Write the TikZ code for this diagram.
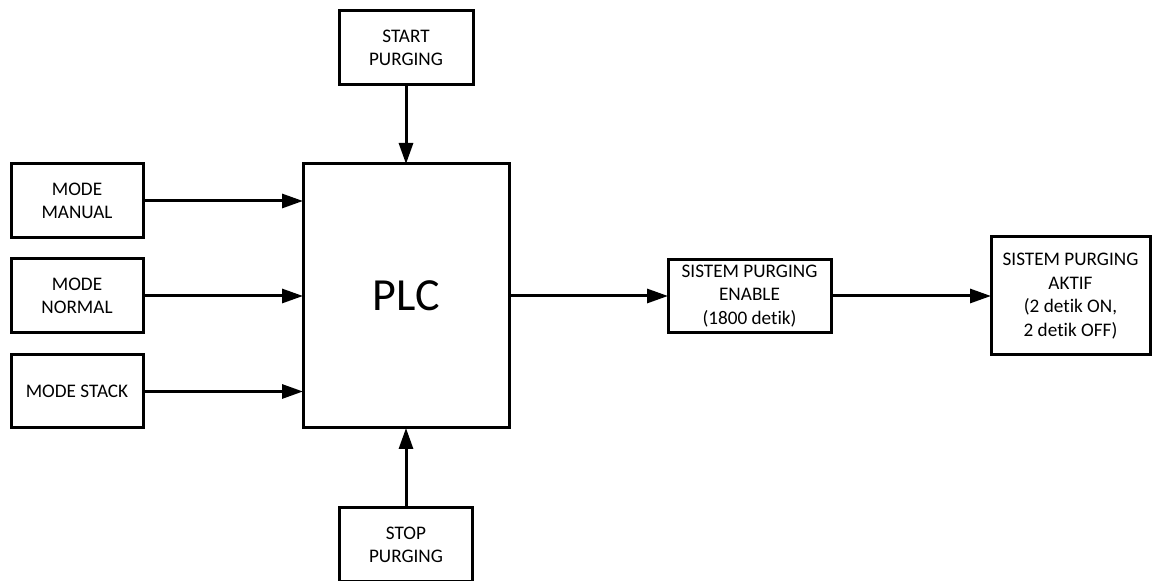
\documentclass[tikz,border=0pt]{standalone}
\usepackage{fontspec}
\setmainfont{Carlito}[Ligatures=NoCommon]
\usepackage{tikz}
\usetikzlibrary{positioning}
\usetikzlibrary{arrows.meta}

\begin{document}
\begin{tikzpicture}[
        block/.style={rectangle, draw, line width=1.5pt, inner sep=0pt, outer sep=0pt, align=center, font=\fontsize{9.6}{11.8}\selectfont, minimum width=66pt, minimum height=37pt},
        plcblock/.style={block, font=\fontsize{23}{27}\selectfont, minimum width=103pt, minimum height=132pt},
        arrow/.style={line width=1.5pt, -{Triangle[length=10.5pt, width=7pt]}}
    ]
        \useasboundingbox (0,0) rectangle (576pt,-290.5pt);

        % PLC
        \node[plcblock] (plc) at (203pt,-148pt) {PLC};

        % Eingaenge
        \node[block, minimum width=67pt] (start) [above=39.5pt of plc] {START\\PURGING};
        \node[block, minimum width=66.5pt] (stop) [below=40pt of plc] {STOP\\PURGING};
        \node[block] (normal) [left=80pt of plc] {MODE\\NORMAL};
        \node[block] (manual) [above=10.5pt of normal] {MODE\\MANUAL};
        \node[block, minimum height=36.5pt] (stack) [below=11pt of normal] {MODE STACK};

        % Ausgaenge
        \node[block, minimum width=81.5pt, minimum height=36.5pt] (enable) [right=79.5pt of plc] {SISTEM PURGING\\ENABLE\\(1800 detik)};
        \node[block, minimum width=79.5pt, minimum height=59pt] (aktif) [right=80pt of enable] {SISTEM PURGING\\AKTIF\\(2 detik ON,\\2 detik OFF)};

        % Verbindungen
        \draw[arrow] (start) -- (plc);
        \draw[arrow] (stop) -- (plc);
        \draw[arrow] (manual) -- (manual -| plc.west);
        \draw[arrow] (normal) -- (plc);
        \draw[arrow] (stack) -- (stack -| plc.west);
        \draw[arrow] (plc) -- (enable);
        \draw[arrow] (enable) -- (aktif);
    \end{tikzpicture}
\end{document}
